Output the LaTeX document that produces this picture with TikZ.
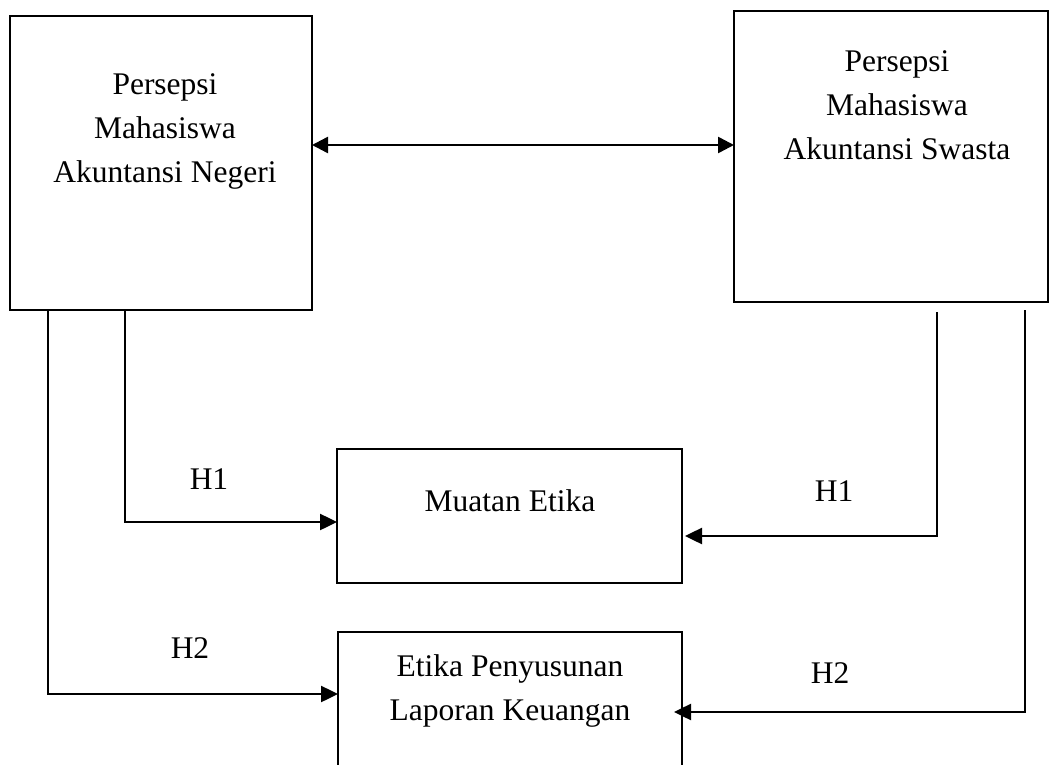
\documentclass[tikz,border=0pt]{standalone}
\usepackage{fontspec}
\setmainfont{Liberation Serif}
\usetikzlibrary{arrows.meta}
\begin{document}
\begin{tikzpicture}[x=1pt,y=-1pt,
  every node/.style={font=\fontsize{31.5}{44}\selectfont},
  box/.style={draw, line width=1.7pt, inner sep=0pt, outer sep=0pt},
  txt/.style={align=center, inner sep=0pt},
  conn/.style={line width=2.5pt, -{Triangle[length=17pt,width=16pt]}},
  dbl/.style={line width=2.5pt, {Triangle[length=16pt,width=16pt]}-{Triangle[length=16pt,width=16pt]}}]
\useasboundingbox (0,0) rectangle (1050,765);
% boxes
\node[box, minimum width=302pt, minimum height=294pt] (A) at (161,163) {};
\node[box, minimum width=314pt, minimum height=291pt] (B) at (891,156.5) {};
\node[box, minimum width=345pt, minimum height=134pt] (M) at (509.5,516) {};
\node[box, minimum width=344pt, minimum height=160pt] (E) at (510,712) {};
% texts
\node[txt] (tA) at (165,131) {Persepsi\\Mahasiswa\\Akuntansi Negeri};
\node[txt] (tB) at (897,105) {Persepsi\\Mahasiswa\\Akuntansi Swasta};
\node[txt] (tM) at (510,501) {Muatan Etika};
\node[txt] (tE) at (510,691) {Etika Penyusunan\\Laporan Keuangan};
\node[txt] (l1) at (209,479) {H1};
\node[txt] (l2) at (834,491) {H1};
\node[txt] (l3) at (190,648) {H2};
\node[txt] (l4) at (830,673) {H2};
% bend points
\coordinate (p1) at (125,522);
\coordinate (p2) at (48,694);
\coordinate (p3) at (937,536);
\coordinate (p4) at (1025,712);
% connectors
\draw[dbl] (A.east |- 0,145) -- (B.west |- 0,145);
\draw[conn] (A.south -| p1) -- (p1) -- (M.west |- p1);
\draw[conn] (A.south -| p2) -- (p2) -- (E.west |- p2);
\draw[conn] ([yshift=-10pt]B.south -| p3) -- (p3) -- ([xshift=3pt]M.east |- p3);
\draw[conn] ([yshift=-8pt]B.south -| p4) -- (p4) -- ([xshift=-8pt]E.east |- p4);
\end{tikzpicture}
\end{document}
